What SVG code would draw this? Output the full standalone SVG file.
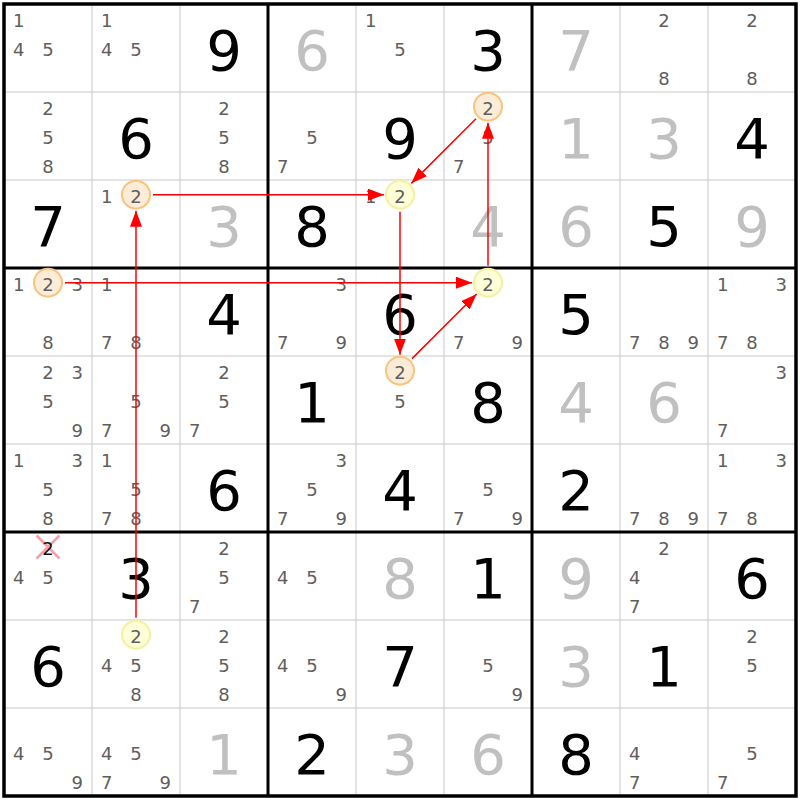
<svg xmlns="http://www.w3.org/2000/svg" width="800" height="800" viewBox="0 0 800 800">
<style>
text{font-family:"DejaVu Sans","Liberation Sans",sans-serif;text-anchor:middle}
.c{font-size:18px;fill:#5e5e5e}
.g{font-size:56px;fill:#000}
.s{font-size:56px;fill:#c0c0c0}
.thin{stroke:#c8c8c8;stroke-width:1}
.thick{stroke:#000;stroke-width:3}
.co{fill:#fdecd8;stroke:#f8c47f;stroke-width:2}
.cy{fill:#ffffd8;stroke:#f4f0a0;stroke-width:2}
.x{stroke:#f4a0a8;stroke-width:2.5}
.arr{stroke:#ff0000;stroke-width:1.5;fill:none;marker-end:url(#ah)}
</style>
<defs>
<marker id="ah" markerUnits="userSpaceOnUse" markerWidth="16" markerHeight="12" refX="16" refY="6" orient="auto">
<path d="M0,0 L16,6 L0,12 z" fill="#ff0000"/>
</marker>
</defs>
<rect x="0" y="0" width="800" height="800" fill="#fff"/>
<g id="grid">
<path class="thin" d="M92,4V796M180,4V796M356,4V796M444,4V796M620,4V796M708,4V796M4,92H796M4,180H796M4,356H796M4,444H796M4,620H796M4,708H796"/>
<path class="thick" d="M268,4V796M532,4V796M4,268H796M4,532H796"/>
<rect x="4" y="4" width="792" height="792" fill="none" stroke="#000" stroke-width="3.5"/>
</g>
<g id="cells">
<!-- row 0 -->
<g id="r0c0" transform="translate(4,4)"><text class="c" x="14.67" y="22.67">1</text><text class="c" x="14.67" y="52">4</text><text class="c" x="44" y="52">5</text></g>
<g id="r0c1" transform="translate(92,4)"><text class="c" x="14.67" y="22.67">1</text><text class="c" x="14.67" y="52">4</text><text class="c" x="44" y="52">5</text></g>
<g id="r0c2" transform="translate(180,4)"><text class="g" x="44" y="66">9</text></g>
<g id="r0c3" transform="translate(268,4)"><text class="s" x="44" y="66">6</text></g>
<g id="r0c4" transform="translate(356,4)"><text class="c" x="14.67" y="22.67">1</text><text class="c" x="44" y="52">5</text></g>
<g id="r0c5" transform="translate(444,4)"><text class="g" x="44" y="66">3</text></g>
<g id="r0c6" transform="translate(532,4)"><text class="s" x="44" y="66">7</text></g>
<g id="r0c7" transform="translate(620,4)"><text class="c" x="44" y="22.67">2</text><text class="c" x="44" y="81.33">8</text></g>
<g id="r0c8" transform="translate(708,4)"><text class="c" x="44" y="22.67">2</text><text class="c" x="44" y="81.33">8</text></g>
<!-- row 1 -->
<g id="r1c0" transform="translate(4,92)"><text class="c" x="44" y="22.67">2</text><text class="c" x="44" y="52">5</text><text class="c" x="44" y="81.33">8</text></g>
<g id="r1c1" transform="translate(92,92)"><text class="g" x="44" y="66">6</text></g>
<g id="r1c2" transform="translate(180,92)"><text class="c" x="44" y="22.67">2</text><text class="c" x="44" y="52">5</text><text class="c" x="44" y="81.33">8</text></g>
<g id="r1c3" transform="translate(268,92)"><text class="c" x="44" y="52">5</text><text class="c" x="14.67" y="81.33">7</text></g>
<g id="r1c4" transform="translate(356,92)"><text class="g" x="44" y="66">9</text></g>
<g id="r1c5" transform="translate(444,92)"><circle class="co" cx="44" cy="14.67" r="14"/><text class="c" x="44" y="22.67">2</text><text class="c" x="44" y="52">5</text><text class="c" x="14.67" y="81.33">7</text></g>
<g id="r1c6" transform="translate(532,92)"><text class="s" x="44" y="66">1</text></g>
<g id="r1c7" transform="translate(620,92)"><text class="s" x="44" y="66">3</text></g>
<g id="r1c8" transform="translate(708,92)"><text class="g" x="44" y="66">4</text></g>
<!-- row 2 -->
<g id="r2c0" transform="translate(4,180)"><text class="g" x="44" y="66">7</text></g>
<g id="r2c1" transform="translate(92,180)"><text class="c" x="14.67" y="22.67">1</text><circle class="co" cx="44" cy="14.67" r="14"/><text class="c" x="44" y="22.67">2</text></g>
<g id="r2c2" transform="translate(180,180)"><text class="s" x="44" y="66">3</text></g>
<g id="r2c3" transform="translate(268,180)"><text class="g" x="44" y="66">8</text></g>
<g id="r2c4" transform="translate(356,180)"><text class="c" x="14.67" y="22.67">1</text><circle class="cy" cx="44" cy="14.67" r="14"/><text class="c" x="44" y="22.67">2</text></g>
<g id="r2c5" transform="translate(444,180)"><text class="s" x="44" y="66">4</text></g>
<g id="r2c6" transform="translate(532,180)"><text class="s" x="44" y="66">6</text></g>
<g id="r2c7" transform="translate(620,180)"><text class="g" x="44" y="66">5</text></g>
<g id="r2c8" transform="translate(708,180)"><text class="s" x="44" y="66">9</text></g>
<!-- row 3 -->
<g id="r3c0" transform="translate(4,268)"><text class="c" x="14.67" y="22.67">1</text><circle class="co" cx="44" cy="14.67" r="14"/><text class="c" x="44" y="22.67">2</text><text class="c" x="73.33" y="22.67">3</text><text class="c" x="44" y="81.33">8</text></g>
<g id="r3c1" transform="translate(92,268)"><text class="c" x="14.67" y="22.67">1</text><text class="c" x="14.67" y="81.33">7</text><text class="c" x="44" y="81.33">8</text></g>
<g id="r3c2" transform="translate(180,268)"><text class="g" x="44" y="66">4</text></g>
<g id="r3c3" transform="translate(268,268)"><text class="c" x="73.33" y="22.67">3</text><text class="c" x="14.67" y="81.33">7</text><text class="c" x="73.33" y="81.33">9</text></g>
<g id="r3c4" transform="translate(356,268)"><text class="g" x="44" y="66">6</text></g>
<g id="r3c5" transform="translate(444,268)"><circle class="cy" cx="44" cy="14.67" r="14"/><text class="c" x="44" y="22.67">2</text><text class="c" x="14.67" y="81.33">7</text><text class="c" x="73.33" y="81.33">9</text></g>
<g id="r3c6" transform="translate(532,268)"><text class="g" x="44" y="66">5</text></g>
<g id="r3c7" transform="translate(620,268)"><text class="c" x="14.67" y="81.33">7</text><text class="c" x="44" y="81.33">8</text><text class="c" x="73.33" y="81.33">9</text></g>
<g id="r3c8" transform="translate(708,268)"><text class="c" x="14.67" y="22.67">1</text><text class="c" x="73.33" y="22.67">3</text><text class="c" x="14.67" y="81.33">7</text><text class="c" x="44" y="81.33">8</text></g>
<!-- row 4 -->
<g id="r4c0" transform="translate(4,356)"><text class="c" x="44" y="22.67">2</text><text class="c" x="73.33" y="22.67">3</text><text class="c" x="44" y="52">5</text><text class="c" x="73.33" y="81.33">9</text></g>
<g id="r4c1" transform="translate(92,356)"><text class="c" x="44" y="52">5</text><text class="c" x="14.67" y="81.33">7</text><text class="c" x="73.33" y="81.33">9</text></g>
<g id="r4c2" transform="translate(180,356)"><text class="c" x="44" y="22.67">2</text><text class="c" x="44" y="52">5</text><text class="c" x="14.67" y="81.33">7</text></g>
<g id="r4c3" transform="translate(268,356)"><text class="g" x="44" y="66">1</text></g>
<g id="r4c4" transform="translate(356,356)"><circle class="co" cx="44" cy="14.67" r="14"/><text class="c" x="44" y="22.67">2</text><text class="c" x="44" y="52">5</text></g>
<g id="r4c5" transform="translate(444,356)"><text class="g" x="44" y="66">8</text></g>
<g id="r4c6" transform="translate(532,356)"><text class="s" x="44" y="66">4</text></g>
<g id="r4c7" transform="translate(620,356)"><text class="s" x="44" y="66">6</text></g>
<g id="r4c8" transform="translate(708,356)"><text class="c" x="73.33" y="22.67">3</text><text class="c" x="14.67" y="81.33">7</text></g>
<!-- row 5 -->
<g id="r5c0" transform="translate(4,444)"><text class="c" x="14.67" y="22.67">1</text><text class="c" x="73.33" y="22.67">3</text><text class="c" x="44" y="52">5</text><text class="c" x="44" y="81.33">8</text></g>
<g id="r5c1" transform="translate(92,444)"><text class="c" x="14.67" y="22.67">1</text><text class="c" x="44" y="52">5</text><text class="c" x="14.67" y="81.33">7</text><text class="c" x="44" y="81.33">8</text></g>
<g id="r5c2" transform="translate(180,444)"><text class="g" x="44" y="66">6</text></g>
<g id="r5c3" transform="translate(268,444)"><text class="c" x="73.33" y="22.67">3</text><text class="c" x="44" y="52">5</text><text class="c" x="14.67" y="81.33">7</text><text class="c" x="73.33" y="81.33">9</text></g>
<g id="r5c4" transform="translate(356,444)"><text class="g" x="44" y="66">4</text></g>
<g id="r5c5" transform="translate(444,444)"><text class="c" x="44" y="52">5</text><text class="c" x="14.67" y="81.33">7</text><text class="c" x="73.33" y="81.33">9</text></g>
<g id="r5c6" transform="translate(532,444)"><text class="g" x="44" y="66">2</text></g>
<g id="r5c7" transform="translate(620,444)"><text class="c" x="14.67" y="81.33">7</text><text class="c" x="44" y="81.33">8</text><text class="c" x="73.33" y="81.33">9</text></g>
<g id="r5c8" transform="translate(708,444)"><text class="c" x="14.67" y="22.67">1</text><text class="c" x="73.33" y="22.67">3</text><text class="c" x="14.67" y="81.33">7</text><text class="c" x="44" y="81.33">8</text></g>
<!-- row 6 -->
<g id="r6c0" transform="translate(4,532)"><path class="x" d="M32.5,3.5L55.5,26.5M55.5,3.5L32.5,26.5"/><text class="c" x="44" y="22.67" style="fill:#111">2</text><text class="c" x="14.67" y="52">4</text><text class="c" x="44" y="52">5</text></g>
<g id="r6c1" transform="translate(92,532)"><text class="g" x="44" y="66">3</text></g>
<g id="r6c2" transform="translate(180,532)"><text class="c" x="44" y="22.67">2</text><text class="c" x="44" y="52">5</text><text class="c" x="14.67" y="81.33">7</text></g>
<g id="r6c3" transform="translate(268,532)"><text class="c" x="14.67" y="52">4</text><text class="c" x="44" y="52">5</text></g>
<g id="r6c4" transform="translate(356,532)"><text class="s" x="44" y="66">8</text></g>
<g id="r6c5" transform="translate(444,532)"><text class="g" x="44" y="66">1</text></g>
<g id="r6c6" transform="translate(532,532)"><text class="s" x="44" y="66">9</text></g>
<g id="r6c7" transform="translate(620,532)"><text class="c" x="44" y="22.67">2</text><text class="c" x="14.67" y="52">4</text><text class="c" x="14.67" y="81.33">7</text></g>
<g id="r6c8" transform="translate(708,532)"><text class="g" x="44" y="66">6</text></g>
<!-- row 7 -->
<g id="r7c0" transform="translate(4,620)"><text class="g" x="44" y="66">6</text></g>
<g id="r7c1" transform="translate(92,620)"><circle class="cy" cx="44" cy="14.67" r="14"/><text class="c" x="44" y="22.67">2</text><text class="c" x="14.67" y="52">4</text><text class="c" x="44" y="52">5</text><text class="c" x="44" y="81.33">8</text></g>
<g id="r7c2" transform="translate(180,620)"><text class="c" x="44" y="22.67">2</text><text class="c" x="44" y="52">5</text><text class="c" x="44" y="81.33">8</text></g>
<g id="r7c3" transform="translate(268,620)"><text class="c" x="14.67" y="52">4</text><text class="c" x="44" y="52">5</text><text class="c" x="73.33" y="81.33">9</text></g>
<g id="r7c4" transform="translate(356,620)"><text class="g" x="44" y="66">7</text></g>
<g id="r7c5" transform="translate(444,620)"><text class="c" x="44" y="52">5</text><text class="c" x="73.33" y="81.33">9</text></g>
<g id="r7c6" transform="translate(532,620)"><text class="s" x="44" y="66">3</text></g>
<g id="r7c7" transform="translate(620,620)"><text class="g" x="44" y="66">1</text></g>
<g id="r7c8" transform="translate(708,620)"><text class="c" x="44" y="22.67">2</text><text class="c" x="44" y="52">5</text></g>
<!-- row 8 -->
<g id="r8c0" transform="translate(4,708)"><text class="c" x="14.67" y="52">4</text><text class="c" x="44" y="52">5</text><text class="c" x="73.33" y="81.33">9</text></g>
<g id="r8c1" transform="translate(92,708)"><text class="c" x="14.67" y="52">4</text><text class="c" x="44" y="52">5</text><text class="c" x="14.67" y="81.33">7</text><text class="c" x="73.33" y="81.33">9</text></g>
<g id="r8c2" transform="translate(180,708)"><text class="s" x="44" y="66">1</text></g>
<g id="r8c3" transform="translate(268,708)"><text class="g" x="44" y="66">2</text></g>
<g id="r8c4" transform="translate(356,708)"><text class="s" x="44" y="66">3</text></g>
<g id="r8c5" transform="translate(444,708)"><text class="s" x="44" y="66">6</text></g>
<g id="r8c6" transform="translate(532,708)"><text class="g" x="44" y="66">8</text></g>
<g id="r8c7" transform="translate(620,708)"><text class="c" x="14.67" y="52">4</text><text class="c" x="14.67" y="81.33">7</text></g>
<g id="r8c8" transform="translate(708,708)"><text class="c" x="44" y="52">5</text><text class="c" x="14.67" y="81.33">7</text></g>
</g>
<g id="connectors">
<line class="arr" x1="136" y1="617.67" x2="136" y2="210.67"/>
<line class="arr" x1="153" y1="194.67" x2="384" y2="194.67"/>
<line class="arr" x1="400" y1="211.67" x2="400" y2="354.67"/>
<line class="arr" x1="412.02" y1="358.65" x2="476.69" y2="293.98"/>
<line class="arr" x1="65" y1="282.67" x2="472" y2="282.67"/>
<line class="arr" x1="488" y1="265.67" x2="488" y2="122.67"/>
<line class="arr" x1="475.98" y1="118.69" x2="411.31" y2="183.35"/>
</g>
</svg>
